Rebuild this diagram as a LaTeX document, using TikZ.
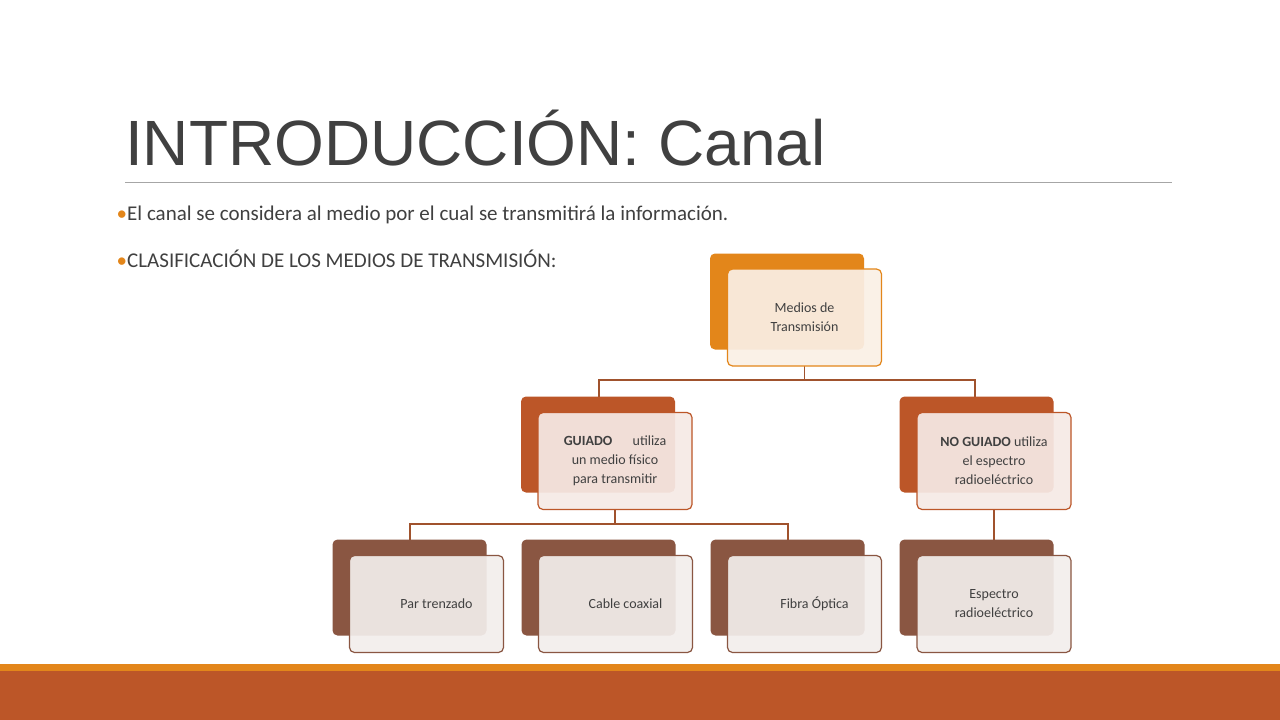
\documentclass[tikz,border=0pt]{standalone}
\usepackage{fontspec}
\setmainfont{Carlito}
\newfontfamily\titlefont{Liberation Sans}
\definecolor{txtgray}{HTML}{404040}
\definecolor{rulegray}{HTML}{A6A6A6}
\definecolor{orangeA}{HTML}{E3861A}
\definecolor{rustA}{HTML}{BC5628}
\definecolor{brownA}{HTML}{8A5642}
\definecolor{linkcol}{HTML}{A0522D}
\definecolor{cream}{HTML}{FAF0E6}
\definecolor{cremeB}{HTML}{F6EAE6}
\definecolor{greyB}{HTML}{F3EEEC}
\begin{document}
\begin{tikzpicture}[x=1pt,y=-1pt,
  backbox/.style={rounded corners=5pt, minimum width=154pt, minimum height=96pt, inner sep=0pt},
  frontbox/.style={draw, line width=1.2pt, fill opacity=0.92, text opacity=1, rounded corners=5pt,
    minimum width=154pt, minimum height=97pt, inner sep=0pt, align=center,
    font=\fontsize{14}{19}\selectfont, text=txtgray},
  link/.style={draw=linkcol, line width=1.3pt}]
\useasboundingbox (0,0) rectangle (1280,720);
\fill[white] (0,0) rectangle (1280,720);

% title and bullets
\node[anchor=base west, inner sep=0pt, text=txtgray, font=\titlefont\fontsize{64}{70}\selectfont] (title) at (125,165) {INTRODUCCIÓN: Canal};
\draw[rulegray, line width=0.8pt] (125,182) -- (1172,182);
\node[anchor=base west, inner sep=0pt, text=txtgray, font=\fontsize{21}{24}\selectfont] (b1) at (127,220)
  {\textcolor{orangeA}{\llap{\textbullet}}El canal se considera al medio por el cual se transmitirá la información.};
\node[anchor=base west, inner sep=0pt, text=txtgray, font=\fontsize{21}{24}\selectfont] (b2) at (127,267)
  {\textcolor{orangeA}{\llap{\textbullet}}CLASIFICACIÓN DE LOS MEDIOS DE TRANSMISIÓN:};

% bottom band
\fill[orangeA] (0,664) rectangle (1280,671);
\fill[rustA] (0,671) rectangle (1280,720);

% connectors
\coordinate (j1) at (804.5,380);
\draw[link] (804.5,366) -- (j1);
\draw[link] (599,397) -- (599,380) -- (975,380) -- (975,397);
\draw[link] (615,510) -- (615,524);
\draw[link] (410,540) -- (410,524) -- (788,524) -- (788,540);
\draw[link] (994,510) -- (994,540);

% root
\node[backbox, fill=orangeA] (rootB) at (787,301.5) {};
\node[frontbox, draw=orangeA, fill=cream] (root) at (804.5,317.5) {Medios de\\Transmisión};

% second level
\node[backbox, fill=rustA] (guiB) at (598,444.5) {};
\node[frontbox, draw=rustA, fill=cremeB] (gui) at (615,461) {\textbf{GUIADO}\quad\ \ utiliza\\un medio físico\\para transmitir};
\node[backbox, fill=rustA] (ngB) at (976.5,444.5) {};
\node[frontbox, draw=rustA, fill=cremeB] (ng) at (994,461) {\textbf{NO GUIADO} utiliza\\el espectro\\radioeléctrico};

% third level
\foreach \nm/\cx/\lbl in {par/409.5/Par trenzado, coax/598.5/Cable coaxial, fib/787.5/Fibra Óptica}{
  \node[backbox, fill=brownA] (\nm B) at (\cx,587.5) {};
  \node[frontbox, draw=brownA, fill=greyB] (\nm) at (\cx+17,604) {\hspace*{20pt}\lbl};
}
\node[backbox, fill=brownA] (espB) at (976.5,587.5) {};
\node[frontbox, draw=brownA, fill=greyB] (esp) at (994,604) {Espectro\\radioeléctrico};
\end{tikzpicture}
\end{document}
